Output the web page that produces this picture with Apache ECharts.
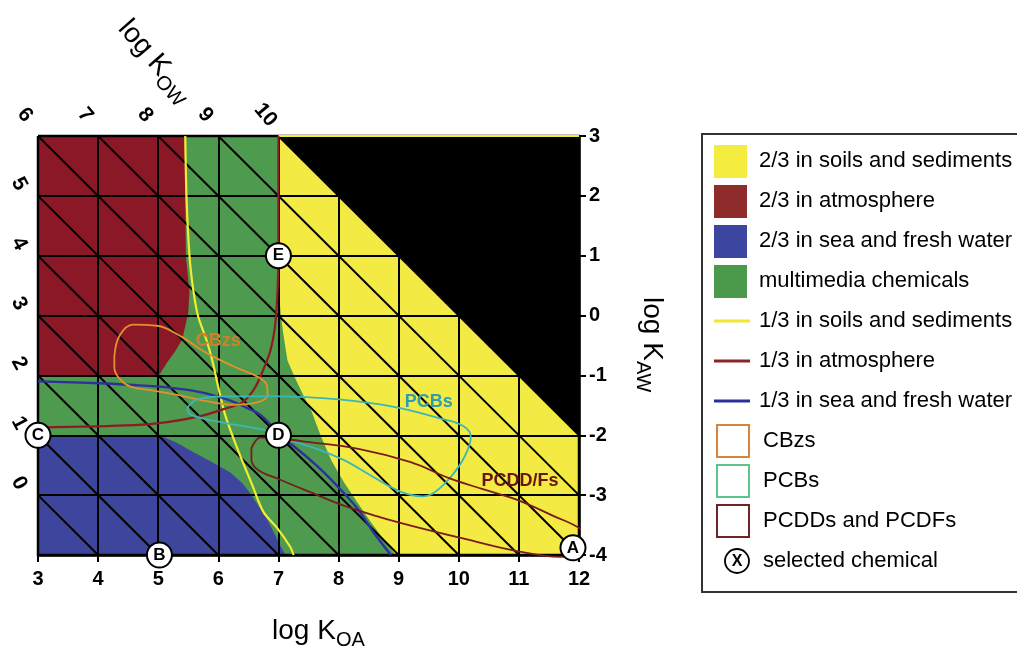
<!DOCTYPE html>
<html><head><meta charset="utf-8">
<script src="https://cdn.jsdelivr.net/npm/echarts@6/dist/echarts.min.js"></script>
<style>html,body{margin:0;padding:0;background:#fff}#c{width:1017px;height:652px}</style>
</head><body><div id="c"></div>
<script>
// ---- axis ticks ----
const koaTicks = [3,4,5,6,7,8,9,10,11,12];
const kawTicks = [3,2,1,0,-1,-2,-3,-4];
const kowTopTicks = [6,7,8,9,10];
const kowLeftTicks = [0,1,2,3,4,5];
const kowLines = [0,1,2,3,4,5,6,7,8,9,10];

// ---- regions [logKOA, logKAW] ----
const plotArea = [[3,3],[12,3],[12,-4],[3,-4]];
const atmRegion = [[3,3],[5.44,3],[5.45,2],[5.46,1],[5.52,0.4],[5.5,0.05],[5.4,-0.4],[5.28,-0.6],[5.15,-0.78],[5.03,-0.97],[4.98,-1],[3,-1]];
const waterRegion = [[3,-2],[5.02,-2],[5.3,-2.12],[5.58,-2.28],[5.9,-2.45],[6.2,-2.62],[6.4,-2.8],[6.53,-2.97],[6.68,-3.2],[6.82,-3.42],[6.95,-3.68],[7.05,-3.88],[7.12,-4],[3,-4]];
const soilRegion = [[7,3],[12,3],[12,-4],[8.95,-4],[8.72,-3.7],[8.5,-3.4],[8.3,-3.1],[8.1,-2.8],[7.88,-2.42],[7.7,-2.0],[7.55,-1.6],[7.4,-1.3],[7.28,-1.05],[7.15,-0.75],[7.08,-0.3],[7.04,0],[7,0.5]];
const blackRegion = [[7,3],[12,3],[12,-2]];

// ---- 1/3 boundary lines ----
const soilLine = [[5.45,3],[5.47,2],[5.52,1],[5.58,0.45],[5.66,0],[5.8,-0.4],[5.9,-0.75],[6.0,-1.2],[6.12,-1.68],[6.32,-2.23],[6.56,-2.82],[6.75,-3.28],[6.98,-3.55],[7.2,-3.87],[7.25,-4]];
const atmLine = [[7,3],[7,1],[6.98,0.3],[6.94,-0.2],[6.87,-0.57],[6.75,-0.9],[6.6,-1.22],[6.4,-1.45],[6.1,-1.56],[5.7,-1.68],[5.15,-1.78],[4.6,-1.83],[3,-1.87]];
const waterLine = [[3,-1.1],[4.03,-1.13],[4.6,-1.16],[5.15,-1.2],[5.7,-1.28],[6.2,-1.42],[6.45,-1.53],[6.7,-1.66],[6.92,-1.88],[7.05,-2.05],[7.25,-2.18],[7.65,-2.52],[7.98,-2.85],[8.32,-3.23],[8.58,-3.62],[8.87,-4]];
const soilTopLine = [[7,3],[12,3]];

// ---- chemical classes ----
const cbzs = [[4.27,-0.68],[4.36,-0.33],[4.58,-0.15],[4.98,-0.17],[5.4,-0.36],[5.68,-0.55],[5.98,-0.72],[6.37,-0.9],[6.65,-1.02],[6.8,-1.15],[6.82,-1.32],[6.65,-1.45],[6.25,-1.49],[5.8,-1.43],[5.3,-1.32],[4.9,-1.25],[4.55,-1.19],[4.37,-1.07],[4.27,-0.87],[4.27,-0.68]];
const pcbs = [[5.48,-1.55],[5.65,-1.4],[6.2,-1.35],[7.0,-1.35],[8.0,-1.4],[8.9,-1.52],[9.7,-1.72],[10.08,-1.85],[10.2,-2.03],[10.1,-2.35],[9.88,-2.68],[9.6,-2.95],[9.4,-3.02],[9.05,-2.95],[8.55,-2.68],[8.1,-2.42],[7.65,-2.23],[7.25,-2.1],[7.0,-2.0],[6.85,-1.93],[6.15,-1.8],[5.75,-1.72],[5.53,-1.65],[5.48,-1.55]];
const pcdds = [[6.55,-2.22],[6.7,-2.04],[7.0,-2.05],[7.4,-2.1],[8.35,-2.23],[9.2,-2.45],[9.85,-2.72],[10.4,-2.9],[10.95,-3.07],[11.58,-3.35],[12.03,-3.57],[12.17,-3.78],[12.08,-3.95],[11.7,-4.03],[10.95,-3.93],[10.1,-3.73],[9.25,-3.52],[8.7,-3.37],[8.1,-3.18],[7.53,-2.95],[7.0,-2.73],[6.65,-2.57],[6.55,-2.4],[6.55,-2.22]];
const classLabels = [{name:'CBzs', value:[6.0,-0.42]},{name:'PCBs', value:[9.5,-1.45]},{name:'PCDD/Fs', value:[11.02,-2.77]}];
const selected = [{name:'A', value:[11.9,-3.88]},{name:'B', value:[5.02,-4]},{name:'C', value:[3,-2]},{name:'D', value:[7,-2]},{name:'E', value:[7,1]}];

const legendItems = [
  {label:'2/3 in soils and sediments', kind:'fill', color:'#f4ec3e'},
  {label:'2/3 in atmosphere', kind:'fill', color:'#8e2b2b'},
  {label:'2/3 in sea and fresh water', kind:'fill', color:'#3c45a0'},
  {label:'multimedia chemicals', kind:'fill', color:'#4b9a4c'},
  {label:'1/3 in soils and sediments', kind:'line', color:'#efe636'},
  {label:'1/3 in atmosphere', kind:'line', color:'#8b2424'},
  {label:'1/3 in sea and fresh water', kind:'line', color:'#2b2f9a'},
  {label:'CBzs', kind:'box', color:'#d8843c'},
  {label:'PCBs', kind:'box', color:'#5cc48c'},
  {label:'PCDDs and PCDFs', kind:'box', color:'#6e2424'},
  {label:'selected chemical', kind:'circle', color:'#000'}
];

const FAM = '"Liberation Sans", Arial, sans-serif';

function poly(name, pts, color, z){
  return {type:'custom', name, coordinateSystem:'cartesian2d', z, silent:true, data:[pts[0]],
    renderItem:(p, api)=>({type:'polygon', shape:{points: pts.map(q=>api.coord(q))}, style:{fill:color}})};
}
function line(name, pts, color, width, z, smooth){
  return {type:'line', name, data:pts, z, silent:true, symbol:'none', smooth:smooth||0, clip:false,
    lineStyle:{color, width}};
}

const series = [
  poly('green', plotArea, '#4e9a4f', 1),
  poly('atm', atmRegion, '#8a1827', 1),
  poly('water', waterRegion, '#3d469c', 1),
  poly('soil', soilRegion, '#f3ea43', 1),
  poly('black', blackRegion, '#000000', 1)
];
kowLines.forEach(k=>{
  const x1 = Math.max(3, k-3), x2 = Math.min(12, k+4);
  series.push(line('kow'+k, [[x1,k-x1],[x2,k-x2]], '#000', 2, 3));
});
series.push(line('border', [[3,3],[12,3],[12,-4],[3,-4],[3,3]], '#000', 2.5, 5));
series.push(line('soilTop', soilTopLine, '#f4ec30', 2, 5.5));
series.push(line('soilLine', soilLine, '#f4ec30', 2.2, 6, 0.3));
series.push(line('atmLine', atmLine, '#8e1b22', 2.2, 6, 0.3));
series.push(line('waterLine', waterLine, '#2f2f9e', 2.4, 6, 0.3));
series.push(line('CBzs', cbzs, '#e0922e', 1.8, 7, 0.4));
series.push(line('PCBs', pcbs, '#3cb6b8', 1.8, 7, 0.4));
series.push(line('PCDDs', pcdds, '#7a1c1c', 1.8, 7, 0.4));
series.push({type:'scatter', name:'selected', z:9, silent:true, clip:false, symbol:'circle', symbolSize:25,
  data:selected, itemStyle:{color:'#fff', borderColor:'#000', borderWidth:2, opacity:1},
  label:{show:true, position:'inside', formatter:'{b}', color:'#000', textBorderWidth:0, fontFamily:FAM, fontWeight:'bold', fontSize:17}});

const chart = echarts.init(document.getElementById('c'), null, {renderer:'canvas'});
chart.setOption({
  animation:false,
  backgroundColor:'#fff',
  grid:{left:38, top:136, width:541, height:419, containLabel:false},
  xAxis:{type:'value', min:3, max:12, interval:1, position:'bottom', z:4,
    axisLine:{onZero:false, lineStyle:{color:'#000', width:2.5}},
    axisTick:{show:true, length:7, lineStyle:{color:'#000', width:2}},
    axisLabel:{margin:14, color:'#000', fontFamily:FAM, fontWeight:'bold', fontSize:20},
    splitLine:{show:true, lineStyle:{color:'#000', width:2}}},
  yAxis:{type:'value', min:-4, max:3, interval:1, position:'right', z:4,
    axisLine:{show:true, onZero:false, lineStyle:{color:'#000', width:2.5}},
    axisTick:{show:true, length:7, lineStyle:{color:'#000', width:2}},
    axisLabel:{margin:10, color:'#000', fontFamily:FAM, fontWeight:'bold', fontSize:20},
    splitLine:{show:true, lineStyle:{color:'#000', width:2}}},
  series
});

// ---- graphics placed through the chart's own coordinate conversion ----
const toPx = p => chart.convertToPixel({gridIndex:0}, p);
const graphic = [];
const labelColors = ['#cf8129','#2b9fb2','#6a1414'];
classLabels.forEach((d,i)=>{
  const p = toPx(d.value);
  graphic.push({type:'text', x:p[0], y:p[1], z:100, style:{text:d.name, fill:labelColors[i], font:'bold 18px '+FAM, textAlign:'center', textVerticalAlign:'middle'}});
});
kowTopTicks.forEach(k=>{
  const p = toPx([k-3, 3]);
  graphic.push({type:'text', x:p[0]-13, y:p[1]-21, rotation:-50*Math.PI/180, z:100,
    style:{text:String(k), fill:'#000', font:'bold 21px '+FAM, textAlign:'center', textVerticalAlign:'middle'}});
});
kowLeftTicks.forEach(k=>{
  const p = toPx([3, k-3]);
  graphic.push({type:'text', x:p[0]-19, y:p[1]-12, rotation:-62*Math.PI/180, z:100,
    style:{text:String(k), fill:'#000', font:'bold 21px '+FAM, textAlign:'center', textVerticalAlign:'middle'}});
});
function title(x, y, rot, main, sub){
  return {type:'group', x, y, rotation:rot, children:[
    {type:'text', x:0, y:0, style:{text:main, font:'28px '+FAM, fill:'#000', textVerticalAlign:'middle'}},
    {type:'text', x:64, y:9, style:{text:sub, font:'20px '+FAM, fill:'#000', textVerticalAlign:'middle'}}
  ]};
}
graphic.push(title(272, 631, 0, 'log K', 'OA'));
graphic.push(title(652, 297, -Math.PI/2, 'log K', 'AW'));
graphic.push(title(123, 24, -49*Math.PI/180, 'log K', 'OW'));
graphic.push({type:'rect', shape:{x:702, y:134, width:340, height:458}, style:{fill:'none', stroke:'#333', lineWidth:2}});
legendItems.forEach((it,i)=>{
  const cy = 161 + i*40;
  if (it.kind==='fill') graphic.push({type:'rect', shape:{x:714, y:cy-16, width:33, height:33}, style:{fill:it.color}});
  if (it.kind==='line') graphic.push({type:'line', shape:{x1:714, y1:cy, x2:750, y2:cy}, style:{stroke:it.color, lineWidth:3}});
  if (it.kind==='box') graphic.push({type:'rect', shape:{x:717, y:cy-16, width:32, height:32}, style:{fill:'none', stroke:it.color, lineWidth:2}});
  if (it.kind==='circle') {
    graphic.push({type:'circle', shape:{cx:737, cy:cy, r:12}, style:{fill:'#fff', stroke:'#000', lineWidth:1.8}});
    graphic.push({type:'text', x:737, y:cy+1, style:{text:'X', font:'bold 16px '+FAM, fill:'#000', textAlign:'center', textVerticalAlign:'middle'}});
  }
  graphic.push({type:'text', x: it.kind==='box'||it.kind==='circle' ? 763 : 759, y:cy,
    style:{text:it.label, font:'22px '+FAM, fill:'#000', textVerticalAlign:'middle'}});
});
chart.setOption({graphic});
</script></body></html>
